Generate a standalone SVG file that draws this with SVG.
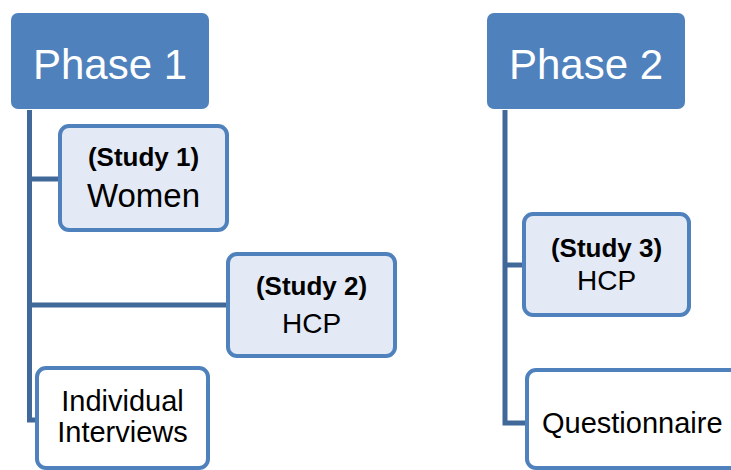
<svg xmlns="http://www.w3.org/2000/svg" width="731" height="470" viewBox="0 0 731 470">
<style>
.phase{fill:#4F81BD;}
.phase-t{font-family:"Liberation Sans",Arial,sans-serif;font-size:42px;fill:#FFFFFF;text-anchor:middle;}
.study{fill:#E3EAF6;stroke:#4F81BD;stroke-width:4;}
.plain{fill:#FFFFFF;stroke:#4F81BD;stroke-width:4;}
.t{font-family:"Liberation Sans",Arial,sans-serif;font-size:28px;fill:#000;text-anchor:middle;}
.p{font-family:"Liberation Sans",Arial,sans-serif;font-size:29px;fill:#000;text-anchor:middle;}
.b{font-family:"Liberation Sans",Arial,sans-serif;font-size:26px;font-weight:bold;fill:#000;text-anchor:middle;}
.conn{fill:none;stroke:#40699A;stroke-width:5;stroke-linejoin:miter;}
</style>
<rect width="731" height="470" fill="#FFFFFF"/>
<g id="connectors">
<path class="conn" d="M29.5,110 V420 H38"/>
<path class="conn" d="M29.5,179 H61"/>
<path class="conn" d="M29.5,305 H229"/>
<path class="conn" d="M505,110 V423 H528"/>
<path class="conn" d="M505,265 H525"/>
</g>
<g id="phase1">
<rect class="phase" x="11" y="13" width="198" height="96" rx="7"/>
<text class="phase-t" x="110" y="79">Phase 1</text>
</g>
<g id="study1">
<rect class="study" x="60" y="126" width="167" height="104" rx="9"/>
<text class="b" x="143.5" y="166">(Study 1)</text>
<text class="t" x="143.5" y="207" style="font-size:33px">Women</text>
</g>
<g id="study2">
<rect class="study" x="228" y="254" width="167" height="102" rx="9"/>
<text class="b" x="311.5" y="295">(Study 2)</text>
<text class="t" x="311.5" y="333">HCP</text>
</g>
<g id="interviews">
<rect class="plain" x="37" y="368" width="171" height="100" rx="9"/>
<text class="p" x="122.5" y="411">Individual</text>
<text class="p" x="122.5" y="442">Interviews</text>
</g>
<g id="phase2">
<rect class="phase" x="487" y="13" width="198" height="96" rx="7"/>
<text class="phase-t" x="586" y="79">Phase 2</text>
</g>
<g id="study3">
<rect class="study" x="524" y="214" width="165" height="101" rx="9"/>
<text class="b" x="606.5" y="257">(Study 3)</text>
<text class="t" x="606.5" y="290">HCP</text>
</g>
<g id="questionnaire">
<rect class="plain" x="527" y="370" width="230" height="98" rx="9"/>
<text class="p" x="542" y="433" style="text-anchor:start">Questionnaire</text>
</g>
</svg>
